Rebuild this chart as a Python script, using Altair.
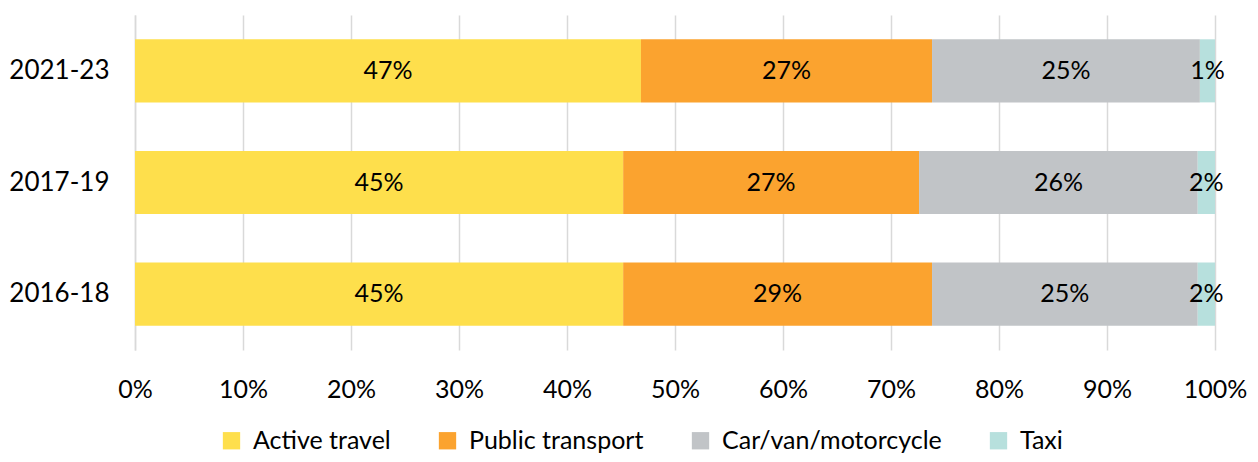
import altair as alt
import pandas as pd

periods = ["2021-23", "2017-19", "2016-18"]
modes = ["Active travel", "Public transport", "Car/van/motorcycle", "Taxi"]
active = [46.85, 45.2, 45.2]
public = [26.95, 27.4, 28.6]
car = [24.8, 25.8, 24.6]
taxi = [1.4, 1.6, 1.6]
colors = ["#FEDF4C", "#FBA32F", "#C1C4C7", "#B7E0DD"]
x_ticks = [0, 10, 20, 30, 40, 50, 60, 70, 80, 90, 100]

rows = []
for i, p in enumerate(periods):
    for j, (m, vals) in enumerate(zip(modes, [active, public, car, taxi])):
        rows.append({"period": p, "mode": m, "order": j, "value": vals[i]})
df = pd.DataFrame(rows)

FONT = "Lato"

base = alt.Chart(df).transform_stack(
    stack="value", groupby=["period"], as_=["start", "end"],
    sort=[alt.SortField("order", order="ascending")]
).transform_calculate(
    mid="(datum.start + datum.end) / 2",
    label="format(datum.value, '.0f') + '%'"
)

y_enc = alt.Y("period:N", sort=periods, title=None,
              scale=alt.Scale(paddingInner=0.435, paddingOuter=0.2175),
              axis=alt.Axis(labelFont=FONT, labelFontSize=26, labelColor="#000000",
                            labelPadding=26, ticks=False, domain=True,
                            domainColor="#D9D9D9", domainWidth=1.5))

bars = base.mark_bar().encode(
    x=alt.X("start:Q", title=None,
            scale=alt.Scale(domain=[0, 100], nice=False),
            axis=alt.Axis(values=x_ticks, labelExpr="datum.value + '%'",
                          labelFont=FONT, labelFontSize=25, labelColor="#000000",
                          labelPadding=27, ticks=False, domain=False,
                          labelFlush=False, labelOverlap=False,
                          grid=True, gridColor="#D9D9D9", gridWidth=1.5)),
    x2="end:Q",
    y=y_enc,
    color=alt.Color("mode:N", sort=modes,
                    scale=alt.Scale(domain=modes, range=colors),
                    legend=alt.Legend(title=None, orient="none", direction="horizontal",
                                      legendX=84, legendY=413,
                                      symbolType="square", symbolSize=300,
                                      symbolStrokeWidth=0, symbolOpacity=1,
                                      labelFont=FONT, labelFontSize=25,
                                      labelColor="#000000", labelOffset=9,
                                      labelLimit=0, columnPadding=44)),
    order=alt.Order("order:Q"),
)

texts = base.mark_text(font=FONT, fontSize=25, color="#000000").encode(
    x=alt.X("mid:Q"),
    y=alt.Y("period:N", sort=periods),
    text="label:N",
)

chart = alt.layer(bars, texts).properties(
    width=1080, height=335,
    autosize=alt.AutoSizeParams(type="none"),
    padding={"left": 127, "top": 7, "right": 35, "bottom": 104},
).configure_view(stroke=None).configure_axis(gridOpacity=1)

chart.save("out.html", embed_options={"renderer": "svg", "actions": False})
